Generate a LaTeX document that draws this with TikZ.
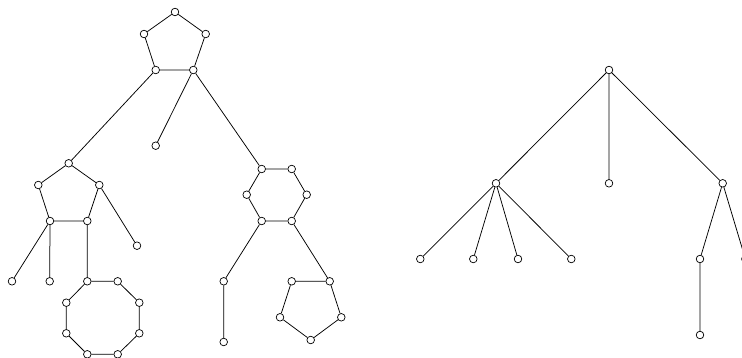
\documentclass[tikz,border=0pt]{standalone}
\begin{document}
\begin{tikzpicture}[x=1pt,y=-1pt,
  vtx/.style={circle,draw,fill=white,inner sep=0pt,minimum size=7.6pt,line width=0.7pt},
  edge/.style={line width=0.75pt}]
\useasboundingbox (0,0) rectangle (742,358);
\clip (0,0) rectangle (742,358);
% left graph: top pentagon
\node[vtx] (p1) at (175,12) {};
\node[vtx] (p2) at (205.7,34) {};
\node[vtx] (p3) at (193.3,70) {};
\node[vtx] (p4) at (155.7,70) {};
\node[vtx] (p5) at (144,34) {};
\node[vtx] (l0) at (155.7,145.7) {};
% left pentagon
\node[vtx] (q1) at (68.7,163.3) {};
\node[vtx] (q2) at (99.3,185) {};
\node[vtx] (q3) at (87.3,221) {};
\node[vtx] (q4) at (50,221) {};
\node[vtx] (q5) at (38.3,185) {};
\node[vtx] (lq) at (137,245.7) {};
\node[vtx] (la) at (12,281.3) {};
\node[vtx] (lb) at (49.7,281.3) {};
% octagon
\node[vtx] (o1) at (87.3,281.3) {};
\node[vtx] (o2) at (117.7,281.3) {};
\node[vtx] (o3) at (139.3,302.7) {};
\node[vtx] (o4) at (139.3,333.3) {};
\node[vtx] (o5) at (117.7,354.3) {};
\node[vtx] (o6) at (87.3,354.3) {};
\node[vtx] (o7) at (66.3,333.3) {};
\node[vtx] (o8) at (66.3,302.7) {};
% hexagon
\node[vtx] (h1) at (261.7,169) {};
\node[vtx] (h2) at (291.7,169) {};
\node[vtx] (h3) at (306.7,194.7) {};
\node[vtx] (h4) at (291.7,221) {};
\node[vtx] (h5) at (261.7,221) {};
\node[vtx] (h6) at (246.7,194.7) {};
\node[vtx] (c1) at (223.7,281.3) {};
\node[vtx] (c2) at (223.7,342) {};
% right pentagon
\node[vtx] (r1) at (329.7,281.3) {};
\node[vtx] (r2) at (341.3,317.3) {};
\node[vtx] (r3) at (310.7,340) {};
\node[vtx] (r4) at (280,317.3) {};
\node[vtx] (r5) at (291.7,281.3) {};
% right tree
\node[vtx] (t0) at (609,70) {};
\node[vtx] (tA) at (496,183.3) {};
\node[vtx] (tB) at (609,183.3) {};
\node[vtx] (tC) at (722.7,183.3) {};
\node[vtx] (a1) at (420.3,259) {};
\node[vtx] (a2) at (473.3,259) {};
\node[vtx] (a3) at (518,259) {};
\node[vtx] (a4) at (571.3,259) {};
\node[vtx] (c3) at (700,259) {};
\node[vtx] (c4) at (745.4,259) {};
\node[vtx] (c5) at (700,335) {};
\begin{scope}[on background layer/.style={}]
\end{scope}
\draw[edge] (p1)--(p2) (p2)--(p3) (p3)--(p4) (p4)--(p5) (p5)--(p1);
\draw[edge] (p4)--(q1) (p3)--(l0) (p3)--(h1);
\draw[edge] (q1)--(q2) (q2)--(q3) (q3)--(q4) (q4)--(q5) (q5)--(q1);
\draw[edge] (q2)--(lq) (q4)--(la) (q4)--(lb) (q3)--(o1);
\draw[edge] (o1)--(o2) (o2)--(o3) (o3)--(o4) (o4)--(o5) (o5)--(o6) (o6)--(o7) (o7)--(o8) (o8)--(o1);
\draw[edge] (h1)--(h2) (h2)--(h3) (h3)--(h4) (h4)--(h5) (h5)--(h6) (h6)--(h1);
\draw[edge] (h5)--(c1) (c1)--(c2) (h4)--(r1);
\draw[edge] (r1)--(r2) (r2)--(r3) (r3)--(r4) (r4)--(r5) (r5)--(r1);
\draw[edge] (t0)--(tA) (t0)--(tB) (t0)--(tC);
\draw[edge] (tA)--(a1) (tA)--(a2) (tA)--(a3) (tA)--(a4);
\draw[edge] (tC)--(c3) (tC)--(c4) (c3)--(c5);
\end{tikzpicture}
\end{document}
